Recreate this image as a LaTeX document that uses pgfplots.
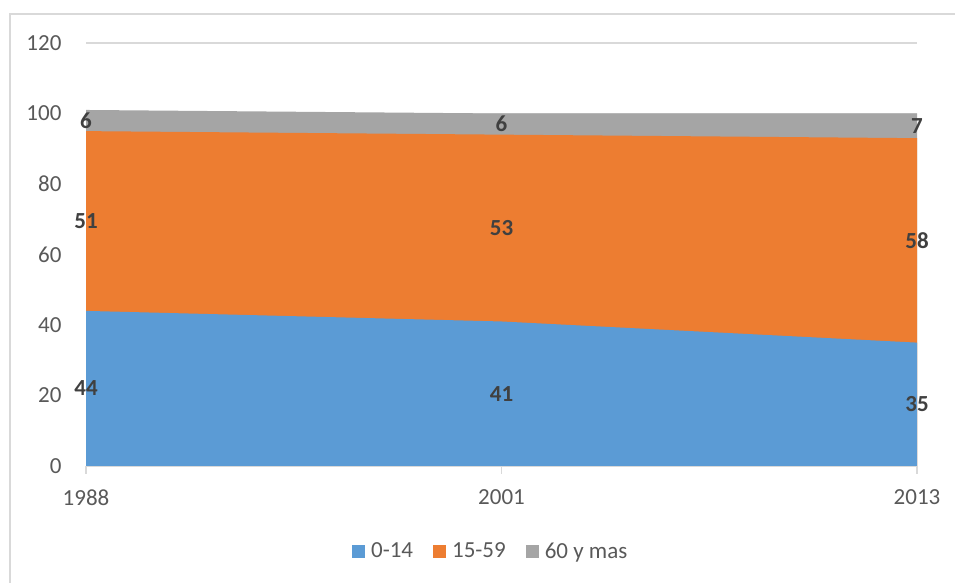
\documentclass[border=0pt]{standalone}
\usepackage{pgfplots}
\pgfplotsset{compat=1.18}
\usepackage{fontspec}
\setmainfont{Carlito}
\definecolor{cblue}{HTML}{5B9BD5}
\definecolor{corange}{HTML}{ED7D31}
\definecolor{cgray}{HTML}{A5A5A5}
\definecolor{ctick}{HTML}{595959}
\definecolor{clab}{HTML}{404040}
\definecolor{cgrid}{HTML}{D9D9D9}
\begin{document}
\begin{tikzpicture}[x=1pt,y=1pt]
\useasboundingbox (0,0) rectangle (955,583);
\draw[cgrid, line width=1.5pt] (10,-5) -- (10,569) -- (960,569);
\begin{axis}[
  at={(86pt,117pt)}, anchor=south west,
  scale only axis, width=831pt, height=423pt,
  xmin=0, xmax=2, ymin=0, ymax=120,
  xtick={0,1,2}, xticklabels={1988,2001,2013},
  ytick={0,20,...,120},
  axis lines*=left,
  y axis line style={draw=none},
  x axis line style={cgrid, line width=1.3pt},
  ymajorgrids, grid style={cgrid, line width=1.3pt},
  ytick style={draw=none},
  xtick style={cgrid, line width=1.3pt},
  tick align=outside,
  major tick length=8pt,
  clip=false,
  font=\fontsize{23}{27}\selectfont,
  ticklabel style={text=ctick, font=\fontsize{23}{27}\selectfont},
  /pgf/number format/assume math mode=true,
  yticklabel style={xshift=-13pt},
  xticklabel style={yshift=-12pt},
  legend columns=3,
  legend style={at={(0.487,-0.201)}, anchor=center, draw=none, fill=none,
    font=\fontsize{23}{27}\selectfont, text=ctick,
    /tikz/every even column/.append style={column sep=18pt}},
]
\addplot[fill=cgray, draw=none, forget plot] coordinates {(0,101) (1,100) (2,100)} \closedcycle;
\addplot[fill=corange, draw=none, forget plot] coordinates {(0,95) (1,94) (2,93)} \closedcycle;
\addplot[fill=cblue, draw=none, forget plot] coordinates {(0,44) (1,41) (2,35)} \closedcycle;
\addplot[draw=none, mark=none, forget plot, nodes near coords, point meta=explicit symbolic,
  every node near coord/.style={anchor=center, font=\bfseries\fontsize{23}{27}\selectfont, text=clab}]
  table[meta=lab] {
x y lab
0 22 44
0 69.5 51
0 98 6
1 20.5 41
1 67.5 53
1 97 6
2 17.5 35
2 64 58
2 96.5 7
};
\addlegendimage{legend image code/.code={\fill[cblue, draw=none] (0pt,-6.5pt) rectangle (13pt,6.5pt); \path[draw=none, fill=none] (0pt,0pt) -- (17pt,0pt);}}
\addlegendentry{0-14}
\addlegendimage{legend image code/.code={\fill[corange, draw=none] (0pt,-6.5pt) rectangle (13pt,6.5pt); \path[draw=none, fill=none] (0pt,0pt) -- (17pt,0pt);}}
\addlegendentry{15-59}
\addlegendimage{legend image code/.code={\fill[cgray, draw=none] (0pt,-6.5pt) rectangle (13pt,6.5pt); \path[draw=none, fill=none] (0pt,0pt) -- (17pt,0pt);}}
\addlegendentry{60 y mas}
\end{axis}
\end{tikzpicture}
\end{document}
